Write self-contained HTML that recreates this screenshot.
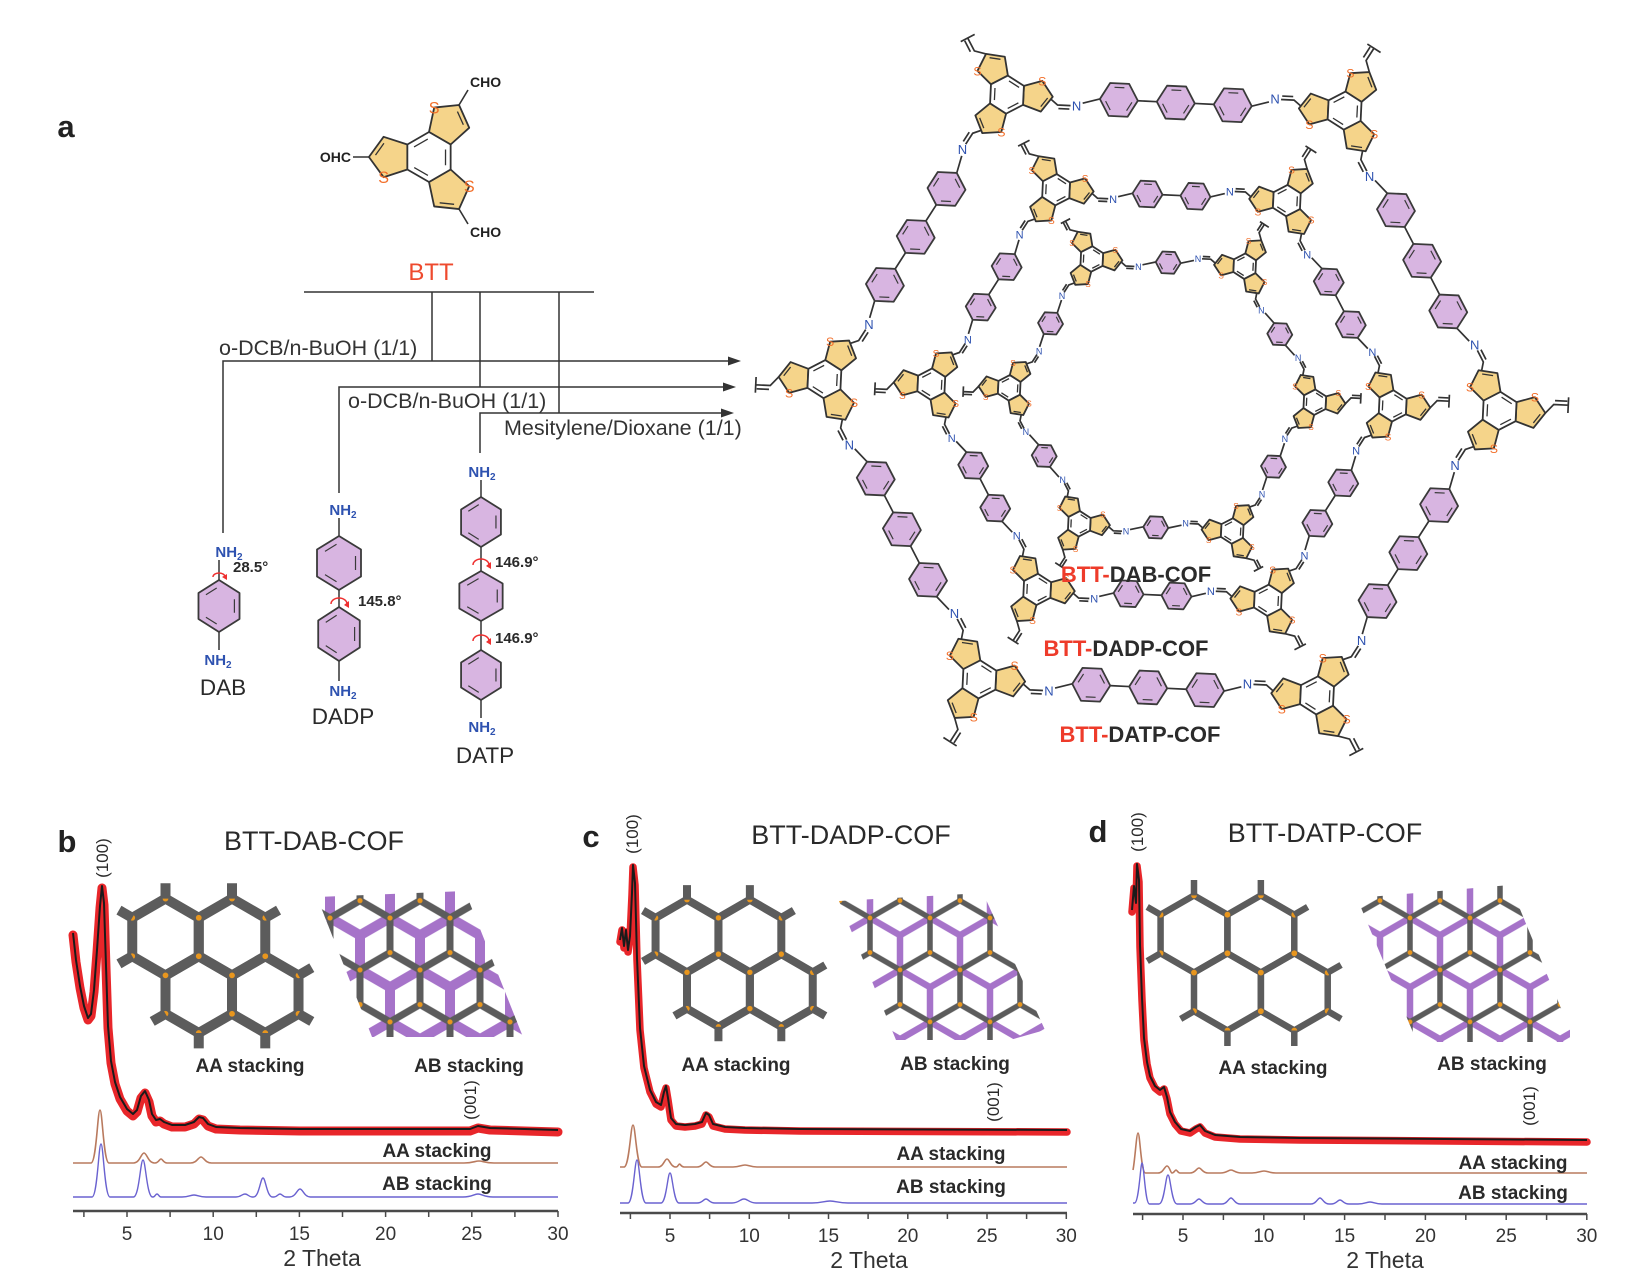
<!DOCTYPE html>
<html><head><meta charset="utf-8"><style>
body{margin:0;background:#fff}
svg{display:block}
svg text{font-family:"Liberation Sans",Arial,sans-serif}
.th{fill:#f5d48a;stroke:#333;stroke-width:1.8;stroke-linejoin:round;vector-effect:non-scaling-stroke}
.bz{fill:#fff;stroke:#333;stroke-width:1.8;stroke-linejoin:round;vector-effect:non-scaling-stroke}
.ln{fill:none;stroke:#333;stroke-width:1.3;vector-effect:non-scaling-stroke}
.b{fill:none;stroke:#333;stroke-width:1.7;vector-effect:non-scaling-stroke}
.ph{fill:#d8b5e1;stroke:#3a3a3a;stroke-width:1.8;stroke-linejoin:round;vector-effect:non-scaling-stroke}
.pi{fill:none;stroke:#3a3a3a;stroke-width:1.2;vector-effect:non-scaling-stroke}
.s{font-size:11px;fill:#f26f2a;text-anchor:middle}
.n1{font-size:13px;fill:#2e52b0;text-anchor:middle}
.n2{font-size:11px;fill:#2e52b0;text-anchor:middle}
.n3{font-size:9px;fill:#2e52b0;text-anchor:middle}
.nh{font-size:15px;font-weight:bold;fill:#2e52b0;text-anchor:middle}
.ang{font-size:15px;font-weight:bold;fill:#2a2a2a}
.mol{font-size:22.5px;fill:#2a2a2a;text-anchor:middle}
.cond{font-size:21.5px;fill:#333}
.cof{font-size:22px;font-weight:bold;fill:#2b2b2b;text-anchor:middle}
.red{fill:#ee3b2a}
.pl{font-size:31px;font-weight:bold;fill:#222;text-anchor:middle}
.ttl{font-size:27px;fill:#2a2a2a;text-anchor:middle}
.tk{font-size:19px;fill:#333;text-anchor:middle}
.xl{font-size:23px;fill:#333;text-anchor:middle}
.st{font-size:19px;font-weight:bold;fill:#2a2a2a;text-anchor:middle}
.hk{font-size:17px;fill:#2a2a2a;text-anchor:middle}
.hc{fill:none;stroke:#5c5c5c;stroke-linejoin:round}
.hc polygon,.hc path{vector-effect:non-scaling-stroke}
.ax{stroke:#4a4a4a;stroke-width:2.5;fill:none}
.tks{stroke:#4a4a4a;stroke-width:1.5;fill:none}
.ex{fill:none;stroke:#e8262a;stroke-linejoin:round;stroke-linecap:round}
.exk{fill:none;stroke:#1a1a1a;stroke-width:2;stroke-linejoin:round}
.aa{fill:none;stroke:#b97a5e;stroke-width:1.6}
.abc{fill:none;stroke:#6a62d0;stroke-width:1.4}
.rot{fill:none;stroke:#ee3030;stroke-width:1.5}
</style></head><body>
<svg width="1647" height="1287" viewBox="0 0 1647 1287" xmlns="http://www.w3.org/2000/svg">
<defs>
<marker id="od" markerUnits="userSpaceOnUse" markerWidth="1" markerHeight="1" refX="0" refY="0" overflow="visible"><circle r="0.075" fill="#e8961e"/></marker>
<pattern id="hg" patternUnits="userSpaceOnUse" width="60" height="103.92"><path d="M30,0V17.32L0,34.64V69.28L30,86.6V103.92M30,17.32L60,34.64V69.28L30,86.6" fill="none" stroke="#5c5c5c" stroke-width="5.5"/><g fill="#e8961e"><circle cx="30" cy="17.32" r="2.4"/><circle cx="0" cy="34.64" r="2.4"/><circle cx="60" cy="34.64" r="2.4"/><circle cx="0" cy="69.28" r="2.4"/><circle cx="60" cy="69.28" r="2.4"/><circle cx="30" cy="86.6" r="2.4"/></g></pattern>
<pattern id="hp" patternUnits="userSpaceOnUse" y="69.28" width="60" height="103.92"><path d="M30,0V17.32L0,34.64V69.28L30,86.6V103.92M30,17.32L60,34.64V69.28L30,86.6" fill="none" stroke="#a673c9" stroke-width="6.5"/></pattern>
<pattern id="hg2" patternUnits="userSpaceOnUse" width="60" height="103.92"><path d="M30,0V17.32L0,34.64V69.28L30,86.6V103.92M30,17.32L60,34.64V69.28L30,86.6" fill="none" stroke="#5c5c5c" stroke-width="7"/><g fill="#e8961e"><circle cx="30" cy="17.32" r="2.6"/><circle cx="0" cy="34.64" r="2.6"/><circle cx="60" cy="34.64" r="2.6"/><circle cx="0" cy="69.28" r="2.6"/><circle cx="60" cy="69.28" r="2.6"/><circle cx="30" cy="86.6" r="2.6"/></g></pattern>
<pattern id="hp2" patternUnits="userSpaceOnUse" y="69.28" width="60" height="103.92"><path d="M30,0V17.32L0,34.64V69.28L30,86.6V103.92M30,17.32L60,34.64V69.28L30,86.6" fill="none" stroke="#a673c9" stroke-width="10"/></pattern>
<clipPath id="abB"><polygon points="317,897 465,891 523,1037 372,1037"/></clipPath>
<clipPath id="abC"><polygon points="839,901 983,893 1045,1030 1010,1040 896,1040"/></clipPath>
<clipPath id="abD"><polygon points="1357,898 1510,885 1570,1030 1570,1042 1417,1042"/></clipPath>
</defs>

<!-- ===== Panel a, left ===== -->
<text class="pl" x="66" y="137">a</text>

<g transform="translate(429,157) scale(1.47)"><g transform="rotate(60)"><polygon class="th" points="14.72,-8.5 30.89,-13.75 40.88,0 30.89,13.75 14.72,8.5"/><polygon class="th" points="0,17 -3.54,33.63 -20.44,35.4 -27.35,19.88 -14.72,8.5"/><polygon class="th" points="-14.72,-8.5 -27.35,-19.88 -20.44,-35.4 -3.54,-33.63 0,-17"/><polygon class="bz" points="14.72,8.5 0,17 -14.72,8.5 -14.72,-8.5 0,-17 14.72,-8.5"/><path class="ln" d="M10.5,6.9L1.2,12.3M-11,5.4V-5.4M1.2,-12.3L10.5,-6.9M36.4,1.3L30.6,9.3M-19.3,30.9L-23.4,21.9M-17.1,-32.2L-7.3,-31.2"/></g><text class="s" x="27.4" y="23.9">S</text><text class="s" x="-30.9" y="17.8">S</text><text class="s" x="3.5" y="-29.6">S</text></g>
<path d="M369,157H353M459,105L468,90M459,209L468,224" stroke="#333" stroke-width="1.6" fill="none"/>
<text x="351" y="162" font-size="14" font-weight="bold" fill="#222" text-anchor="end">OHC</text>
<text x="470" y="87" font-size="14" font-weight="bold" fill="#222">CHO</text>
<text x="470" y="237" font-size="14" font-weight="bold" fill="#222">CHO</text>
<text x="431" y="280" font-size="24" fill="#ee4a2e" text-anchor="middle">BTT</text>

<g stroke="#333" stroke-width="1.5" fill="none">
<path d="M304,292H594"/>
<path d="M432,292V361M480,292V387M559,292V413"/>
<path d="M223,533V361H730M339,493V387H725M480,453V413H723"/>
</g>
<g fill="#333"><polygon points="741,361 728,356.5 728,365.5"/><polygon points="736,387 723,382.5 723,391.5"/><polygon points="734,413 721,408.5 721,417.5"/></g>
<text class="cond" x="219" y="355">o-DCB/n-BuOH (1/1)</text>
<text class="cond" x="348" y="408">o-DCB/n-BuOH (1/1)</text>
<text class="cond" x="504" y="435">Mesitylene/Dioxane (1/1)</text>

<!-- DAB -->
<text class="nh" x="229" y="557">NH<tspan font-size="10" dy="3">2</tspan></text>
<path d="M219,560V580M219,632V650" stroke="#333" stroke-width="1.5"/>
<g transform="translate(219,606) rotate(90) scale(26,23.7)"><polygon class="ph" points="1,0 .5,.866 -.5,.866 -1,0 -.5,-.866 .5,-.866"/><path class="pi" d="M.694,.097L.431,.552M-.431,.552L-.694,.097M-.26,-.65L.26,-.65"/></g>
<path class="rot" d="M213,577A6,4 0 1,1 225,577"/><polygon points="227,574 222,577 227,580" fill="#ee3030"/>
<text class="ang" x="233" y="572">28.5°</text>
<text class="nh" x="218" y="665">NH<tspan font-size="10" dy="3">2</tspan></text>
<text class="mol" x="223" y="695">DAB</text>

<!-- DADP -->
<text class="nh" x="343" y="515">NH<tspan font-size="10" dy="3">2</tspan></text>
<path d="M339,518V536M339,590V607M339,661V681" stroke="#333" stroke-width="1.5"/>
<g transform="translate(339,563) rotate(90) scale(27,25.4)"><polygon class="ph" points="1,0 .5,.866 -.5,.866 -1,0 -.5,-.866 .5,-.866"/><path class="pi" d="M.694,.097L.431,.552M-.431,.552L-.694,.097M-.26,-.65L.26,-.65"/></g>
<g transform="translate(339,634) rotate(90) scale(27,24)"><polygon class="ph" points="1,0 .5,.866 -.5,.866 -1,0 -.5,-.866 .5,-.866"/><path class="pi" d="M.694,.097L.431,.552M-.431,.552L-.694,.097M-.26,-.65L.26,-.65"/></g>
<path class="rot" d="M331,604A8,6 0 1,1 347,604"/><polygon points="349,601 344,605 349,608" fill="#ee3030"/>
<text class="ang" x="358" y="606">145.8°</text>
<text class="nh" x="343" y="696">NH<tspan font-size="10" dy="3">2</tspan></text>
<text class="mol" x="343" y="724">DADP</text>

<!-- DATP -->
<text class="nh" x="482" y="477">NH<tspan font-size="10" dy="3">2</tspan></text>
<path d="M481,480V497M481,547V571M481,621V650M481,700V718" stroke="#333" stroke-width="1.5"/>
<g transform="translate(481,522) rotate(90) scale(25,23)"><polygon class="ph" points="1,0 .5,.866 -.5,.866 -1,0 -.5,-.866 .5,-.866"/><path class="pi" d="M.694,.097L.431,.552M-.431,.552L-.694,.097M-.26,-.65L.26,-.65"/></g>
<g transform="translate(481,596) rotate(90) scale(25,25)"><polygon class="ph" points="1,0 .5,.866 -.5,.866 -1,0 -.5,-.866 .5,-.866"/><path class="pi" d="M.694,.097L.431,.552M-.431,.552L-.694,.097M-.26,-.65L.26,-.65"/></g>
<g transform="translate(481,675) rotate(90) scale(25,23)"><polygon class="ph" points="1,0 .5,.866 -.5,.866 -1,0 -.5,-.866 .5,-.866"/><path class="pi" d="M.694,.097L.431,.552M-.431,.552L-.694,.097M-.26,-.65L.26,-.65"/></g>
<path class="rot" d="M473,565A8,6 0 1,1 489,565"/><polygon points="491,562 486,566 491,569" fill="#ee3030"/>
<path class="rot" d="M473,641A8,6 0 1,1 489,641"/><polygon points="491,638 486,642 491,645" fill="#ee3030"/>
<text class="ang" x="495" y="567">146.9°</text>
<text class="ang" x="495" y="643">146.9°</text>
<text class="nh" x="482" y="732">NH<tspan font-size="10" dy="3">2</tspan></text>
<text class="mol" x="485" y="763">DATP</text>

<!-- ===== network linkers ===== -->
<g transform="translate(1499.6,410.9) rotate(122.7)"><path class="b" d="M40.9,0L51,8L64,8M52,11.5L63,11.5M76,5L93,0M131,0L150,0M188,0L207,0M245,0L262,-5M274,-8L287,-8L297.1,0M275,-11.5L286,-11.5"/><g transform="translate(112,0) scale(19)"><polygon class="ph" points="1,0 .5,.866 -.5,.866 -1,0 -.5,-.866 .5,-.866"/><path class="pi" d="M.694,.097L.431,.552M-.431,.552L-.694,.097M-.26,-.65L.26,-.65"/></g><g transform="translate(169,0) scale(19)"><polygon class="ph" points="1,0 .5,.866 -.5,.866 -1,0 -.5,-.866 .5,-.866"/><path class="pi" d="M.694,.097L.431,.552M-.431,.552L-.694,.097M-.26,-.65L.26,-.65"/></g><g transform="translate(226,0) scale(19)"><polygon class="ph" points="1,0 .5,.866 -.5,.866 -1,0 -.5,-.866 .5,-.866"/><path class="pi" d="M.694,.097L.431,.552M-.431,.552L-.694,.097M-.26,-.65L.26,-.65"/></g><text class="n1" transform="translate(70,8) rotate(-122.7)" y="4.5">N</text><text class="n1" transform="translate(268,-8) rotate(-122.7)" y="4.5">N</text></g>
<g transform="translate(1317,695.4) rotate(182.7)"><path class="b" d="M40.9,0L51,8L64,8M52,11.5L63,11.5M76,5L93,0M131,0L150,0M188,0L207,0M245,0L262,-5M274,-8L287,-8L297.1,0M275,-11.5L286,-11.5"/><g transform="translate(112,0) scale(19)"><polygon class="ph" points="1,0 .5,.866 -.5,.866 -1,0 -.5,-.866 .5,-.866"/><path class="pi" d="M.694,.097L.431,.552M-.431,.552L-.694,.097M-.26,-.65L.26,-.65"/></g><g transform="translate(169,0) scale(19)"><polygon class="ph" points="1,0 .5,.866 -.5,.866 -1,0 -.5,-.866 .5,-.866"/><path class="pi" d="M.694,.097L.431,.552M-.431,.552L-.694,.097M-.26,-.65L.26,-.65"/></g><g transform="translate(226,0) scale(19)"><polygon class="ph" points="1,0 .5,.866 -.5,.866 -1,0 -.5,-.866 .5,-.866"/><path class="pi" d="M.694,.097L.431,.552M-.431,.552L-.694,.097M-.26,-.65L.26,-.65"/></g><text class="n1" transform="translate(70,8) rotate(-182.7)" y="4.5">N</text><text class="n1" transform="translate(268,-8) rotate(-182.7)" y="4.5">N</text></g>
<g transform="translate(979.4,679.4) rotate(242.7)"><path class="b" d="M40.9,0L51,8L64,8M52,11.5L63,11.5M76,5L93,0M131,0L150,0M188,0L207,0M245,0L262,-5M274,-8L287,-8L297.1,0M275,-11.5L286,-11.5"/><g transform="translate(112,0) scale(19)"><polygon class="ph" points="1,0 .5,.866 -.5,.866 -1,0 -.5,-.866 .5,-.866"/><path class="pi" d="M.694,.097L.431,.552M-.431,.552L-.694,.097M-.26,-.65L.26,-.65"/></g><g transform="translate(169,0) scale(19)"><polygon class="ph" points="1,0 .5,.866 -.5,.866 -1,0 -.5,-.866 .5,-.866"/><path class="pi" d="M.694,.097L.431,.552M-.431,.552L-.694,.097M-.26,-.65L.26,-.65"/></g><g transform="translate(226,0) scale(19)"><polygon class="ph" points="1,0 .5,.866 -.5,.866 -1,0 -.5,-.866 .5,-.866"/><path class="pi" d="M.694,.097L.431,.552M-.431,.552L-.694,.097M-.26,-.65L.26,-.65"/></g><text class="n1" transform="translate(70,8) rotate(-242.7)" y="4.5">N</text><text class="n1" transform="translate(268,-8) rotate(-242.7)" y="4.5">N</text></g>
<g transform="translate(824.4,379.1) rotate(302.7)"><path class="b" d="M40.9,0L51,8L64,8M52,11.5L63,11.5M76,5L93,0M131,0L150,0M188,0L207,0M245,0L262,-5M274,-8L287,-8L297.1,0M275,-11.5L286,-11.5"/><g transform="translate(112,0) scale(19)"><polygon class="ph" points="1,0 .5,.866 -.5,.866 -1,0 -.5,-.866 .5,-.866"/><path class="pi" d="M.694,.097L.431,.552M-.431,.552L-.694,.097M-.26,-.65L.26,-.65"/></g><g transform="translate(169,0) scale(19)"><polygon class="ph" points="1,0 .5,.866 -.5,.866 -1,0 -.5,-.866 .5,-.866"/><path class="pi" d="M.694,.097L.431,.552M-.431,.552L-.694,.097M-.26,-.65L.26,-.65"/></g><g transform="translate(226,0) scale(19)"><polygon class="ph" points="1,0 .5,.866 -.5,.866 -1,0 -.5,-.866 .5,-.866"/><path class="pi" d="M.694,.097L.431,.552M-.431,.552L-.694,.097M-.26,-.65L.26,-.65"/></g><text class="n1" transform="translate(70,8) rotate(-302.7)" y="4.5">N</text><text class="n1" transform="translate(268,-8) rotate(-302.7)" y="4.5">N</text></g>
<g transform="translate(1007,94.6) rotate(2.7)"><path class="b" d="M40.9,0L51,8L64,8M52,11.5L63,11.5M76,5L93,0M131,0L150,0M188,0L207,0M245,0L262,-5M274,-8L287,-8L297.1,0M275,-11.5L286,-11.5"/><g transform="translate(112,0) scale(19)"><polygon class="ph" points="1,0 .5,.866 -.5,.866 -1,0 -.5,-.866 .5,-.866"/><path class="pi" d="M.694,.097L.431,.552M-.431,.552L-.694,.097M-.26,-.65L.26,-.65"/></g><g transform="translate(169,0) scale(19)"><polygon class="ph" points="1,0 .5,.866 -.5,.866 -1,0 -.5,-.866 .5,-.866"/><path class="pi" d="M.694,.097L.431,.552M-.431,.552L-.694,.097M-.26,-.65L.26,-.65"/></g><g transform="translate(226,0) scale(19)"><polygon class="ph" points="1,0 .5,.866 -.5,.866 -1,0 -.5,-.866 .5,-.866"/><path class="pi" d="M.694,.097L.431,.552M-.431,.552L-.694,.097M-.26,-.65L.26,-.65"/></g><text class="n1" transform="translate(70,8) rotate(-2.7)" y="4.5">N</text><text class="n1" transform="translate(268,-8) rotate(-2.7)" y="4.5">N</text></g>
<g transform="translate(1344.6,110.6) rotate(62.7)"><path class="b" d="M40.9,0L51,8L64,8M52,11.5L63,11.5M76,5L93,0M131,0L150,0M188,0L207,0M245,0L262,-5M274,-8L287,-8L297.1,0M275,-11.5L286,-11.5"/><g transform="translate(112,0) scale(19)"><polygon class="ph" points="1,0 .5,.866 -.5,.866 -1,0 -.5,-.866 .5,-.866"/><path class="pi" d="M.694,.097L.431,.552M-.431,.552L-.694,.097M-.26,-.65L.26,-.65"/></g><g transform="translate(169,0) scale(19)"><polygon class="ph" points="1,0 .5,.866 -.5,.866 -1,0 -.5,-.866 .5,-.866"/><path class="pi" d="M.694,.097L.431,.552M-.431,.552L-.694,.097M-.26,-.65L.26,-.65"/></g><g transform="translate(226,0) scale(19)"><polygon class="ph" points="1,0 .5,.866 -.5,.866 -1,0 -.5,-.866 .5,-.866"/><path class="pi" d="M.694,.097L.431,.552M-.431,.552L-.694,.097M-.26,-.65L.26,-.65"/></g><text class="n1" transform="translate(70,8) rotate(-62.7)" y="4.5">N</text><text class="n1" transform="translate(268,-8) rotate(-62.7)" y="4.5">N</text></g>

<g transform="translate(1392.7,405.9) rotate(122.7)"><path class="b" d="M33.5,0L41.8,6.6L52.5,6.6M42.6,9.4L51.7,9.4M62.3,4.1L76.5,0M106.5,0L124.5,0M154.5,0L168.7,-4.1M178.5,-6.6L189.2,-6.6L197.5,0M179.3,-9.4L188.4,-9.4"/><g transform="translate(91.5,0) scale(15)"><polygon class="ph" points="1,0 .5,.866 -.5,.866 -1,0 -.5,-.866 .5,-.866"/><path class="pi" d="M.694,.097L.431,.552M-.431,.552L-.694,.097M-.26,-.65L.26,-.65"/></g><g transform="translate(139.5,0) scale(15)"><polygon class="ph" points="1,0 .5,.866 -.5,.866 -1,0 -.5,-.866 .5,-.866"/><path class="pi" d="M.694,.097L.431,.552M-.431,.552L-.694,.097M-.26,-.65L.26,-.65"/></g><text class="n2" transform="translate(57.4,6.6) rotate(-122.7)" y="4">N</text><text class="n2" transform="translate(173.6,-6.6) rotate(-122.7)" y="4">N</text></g>
<g transform="translate(1267.9,600.3) rotate(182.7)"><path class="b" d="M33.5,0L41.8,6.6L52.5,6.6M42.6,9.4L51.7,9.4M62.3,4.1L76.5,0M106.5,0L124.5,0M154.5,0L168.7,-4.1M178.5,-6.6L189.2,-6.6L197.5,0M179.3,-9.4L188.4,-9.4"/><g transform="translate(91.5,0) scale(15)"><polygon class="ph" points="1,0 .5,.866 -.5,.866 -1,0 -.5,-.866 .5,-.866"/><path class="pi" d="M.694,.097L.431,.552M-.431,.552L-.694,.097M-.26,-.65L.26,-.65"/></g><g transform="translate(139.5,0) scale(15)"><polygon class="ph" points="1,0 .5,.866 -.5,.866 -1,0 -.5,-.866 .5,-.866"/><path class="pi" d="M.694,.097L.431,.552M-.431,.552L-.694,.097M-.26,-.65L.26,-.65"/></g><text class="n2" transform="translate(57.4,6.6) rotate(-182.7)" y="4">N</text><text class="n2" transform="translate(173.6,-6.6) rotate(-182.7)" y="4">N</text></g>
<g transform="translate(1037.2,589.4) rotate(242.7)"><path class="b" d="M33.5,0L41.8,6.6L52.5,6.6M42.6,9.4L51.7,9.4M62.3,4.1L76.5,0M106.5,0L124.5,0M154.5,0L168.7,-4.1M178.5,-6.6L189.2,-6.6L197.5,0M179.3,-9.4L188.4,-9.4"/><g transform="translate(91.5,0) scale(15)"><polygon class="ph" points="1,0 .5,.866 -.5,.866 -1,0 -.5,-.866 .5,-.866"/><path class="pi" d="M.694,.097L.431,.552M-.431,.552L-.694,.097M-.26,-.65L.26,-.65"/></g><g transform="translate(139.5,0) scale(15)"><polygon class="ph" points="1,0 .5,.866 -.5,.866 -1,0 -.5,-.866 .5,-.866"/><path class="pi" d="M.694,.097L.431,.552M-.431,.552L-.694,.097M-.26,-.65L.26,-.65"/></g><text class="n2" transform="translate(57.4,6.6) rotate(-242.7)" y="4">N</text><text class="n2" transform="translate(173.6,-6.6) rotate(-242.7)" y="4">N</text></g>
<g transform="translate(931.3,384.1) rotate(302.7)"><path class="b" d="M33.5,0L41.8,6.6L52.5,6.6M42.6,9.4L51.7,9.4M62.3,4.1L76.5,0M106.5,0L124.5,0M154.5,0L168.7,-4.1M178.5,-6.6L189.2,-6.6L197.5,0M179.3,-9.4L188.4,-9.4"/><g transform="translate(91.5,0) scale(15)"><polygon class="ph" points="1,0 .5,.866 -.5,.866 -1,0 -.5,-.866 .5,-.866"/><path class="pi" d="M.694,.097L.431,.552M-.431,.552L-.694,.097M-.26,-.65L.26,-.65"/></g><g transform="translate(139.5,0) scale(15)"><polygon class="ph" points="1,0 .5,.866 -.5,.866 -1,0 -.5,-.866 .5,-.866"/><path class="pi" d="M.694,.097L.431,.552M-.431,.552L-.694,.097M-.26,-.65L.26,-.65"/></g><text class="n2" transform="translate(57.4,6.6) rotate(-302.7)" y="4">N</text><text class="n2" transform="translate(173.6,-6.6) rotate(-302.7)" y="4">N</text></g>
<g transform="translate(1056.1,189.7) rotate(2.7)"><path class="b" d="M33.5,0L41.8,6.6L52.5,6.6M42.6,9.4L51.7,9.4M62.3,4.1L76.5,0M106.5,0L124.5,0M154.5,0L168.7,-4.1M178.5,-6.6L189.2,-6.6L197.5,0M179.3,-9.4L188.4,-9.4"/><g transform="translate(91.5,0) scale(15)"><polygon class="ph" points="1,0 .5,.866 -.5,.866 -1,0 -.5,-.866 .5,-.866"/><path class="pi" d="M.694,.097L.431,.552M-.431,.552L-.694,.097M-.26,-.65L.26,-.65"/></g><g transform="translate(139.5,0) scale(15)"><polygon class="ph" points="1,0 .5,.866 -.5,.866 -1,0 -.5,-.866 .5,-.866"/><path class="pi" d="M.694,.097L.431,.552M-.431,.552L-.694,.097M-.26,-.65L.26,-.65"/></g><text class="n2" transform="translate(57.4,6.6) rotate(-2.7)" y="4">N</text><text class="n2" transform="translate(173.6,-6.6) rotate(-2.7)" y="4">N</text></g>
<g transform="translate(1286.8,200.6) rotate(62.7)"><path class="b" d="M33.5,0L41.8,6.6L52.5,6.6M42.6,9.4L51.7,9.4M62.3,4.1L76.5,0M106.5,0L124.5,0M154.5,0L168.7,-4.1M178.5,-6.6L189.2,-6.6L197.5,0M179.3,-9.4L188.4,-9.4"/><g transform="translate(91.5,0) scale(15)"><polygon class="ph" points="1,0 .5,.866 -.5,.866 -1,0 -.5,-.866 .5,-.866"/><path class="pi" d="M.694,.097L.431,.552M-.431,.552L-.694,.097M-.26,-.65L.26,-.65"/></g><g transform="translate(139.5,0) scale(15)"><polygon class="ph" points="1,0 .5,.866 -.5,.866 -1,0 -.5,-.866 .5,-.866"/><path class="pi" d="M.694,.097L.431,.552M-.431,.552L-.694,.097M-.26,-.65L.26,-.65"/></g><text class="n2" transform="translate(57.4,6.6) rotate(-62.7)" y="4">N</text><text class="n2" transform="translate(173.6,-6.6) rotate(-62.7)" y="4">N</text></g>

<g transform="translate(1314.8,402.2) rotate(122.7)"><path class="b" d="M27.4,0L34.2,5.4L42.9,5.4M34.8,7.7L42.2,7.7M50.9,3.4L64,0M89,0L102.1,-3.4M110.1,-5.4L118.8,-5.4L125.6,0M110.8,-7.7L118.2,-7.7"/><g transform="translate(76.5,0) scale(12.5)"><polygon class="ph" points="1,0 .5,.866 -.5,.866 -1,0 -.5,-.866 .5,-.866"/><path class="pi" d="M.694,.097L.431,.552M-.431,.552L-.694,.097M-.26,-.65L.26,-.65"/></g><text class="n3" transform="translate(46.9,5.4) rotate(-122.7)" y="3.2">N</text><text class="n3" transform="translate(106.1,-5.4) rotate(-122.7)" y="3.2">N</text></g>
<g transform="translate(1232.2,531) rotate(182.7)"><path class="b" d="M27.4,0L34.2,5.4L42.9,5.4M34.8,7.7L42.2,7.7M50.9,3.4L64,0M89,0L102.1,-3.4M110.1,-5.4L118.8,-5.4L125.6,0M110.8,-7.7L118.2,-7.7"/><g transform="translate(76.5,0) scale(12.5)"><polygon class="ph" points="1,0 .5,.866 -.5,.866 -1,0 -.5,-.866 .5,-.866"/><path class="pi" d="M.694,.097L.431,.552M-.431,.552L-.694,.097M-.26,-.65L.26,-.65"/></g><text class="n3" transform="translate(46.9,5.4) rotate(-182.7)" y="3.2">N</text><text class="n3" transform="translate(106.1,-5.4) rotate(-182.7)" y="3.2">N</text></g>
<g transform="translate(1079.3,523.8) rotate(242.7)"><path class="b" d="M27.4,0L34.2,5.4L42.9,5.4M34.8,7.7L42.2,7.7M50.9,3.4L64,0M89,0L102.1,-3.4M110.1,-5.4L118.8,-5.4L125.6,0M110.8,-7.7L118.2,-7.7"/><g transform="translate(76.5,0) scale(12.5)"><polygon class="ph" points="1,0 .5,.866 -.5,.866 -1,0 -.5,-.866 .5,-.866"/><path class="pi" d="M.694,.097L.431,.552M-.431,.552L-.694,.097M-.26,-.65L.26,-.65"/></g><text class="n3" transform="translate(46.9,5.4) rotate(-242.7)" y="3.2">N</text><text class="n3" transform="translate(106.1,-5.4) rotate(-242.7)" y="3.2">N</text></g>
<g transform="translate(1009.2,387.8) rotate(302.7)"><path class="b" d="M27.4,0L34.2,5.4L42.9,5.4M34.8,7.7L42.2,7.7M50.9,3.4L64,0M89,0L102.1,-3.4M110.1,-5.4L118.8,-5.4L125.6,0M110.8,-7.7L118.2,-7.7"/><g transform="translate(76.5,0) scale(12.5)"><polygon class="ph" points="1,0 .5,.866 -.5,.866 -1,0 -.5,-.866 .5,-.866"/><path class="pi" d="M.694,.097L.431,.552M-.431,.552L-.694,.097M-.26,-.65L.26,-.65"/></g><text class="n3" transform="translate(46.9,5.4) rotate(-302.7)" y="3.2">N</text><text class="n3" transform="translate(106.1,-5.4) rotate(-302.7)" y="3.2">N</text></g>
<g transform="translate(1091.8,259) rotate(2.7)"><path class="b" d="M27.4,0L34.2,5.4L42.9,5.4M34.8,7.7L42.2,7.7M50.9,3.4L64,0M89,0L102.1,-3.4M110.1,-5.4L118.8,-5.4L125.6,0M110.8,-7.7L118.2,-7.7"/><g transform="translate(76.5,0) scale(12.5)"><polygon class="ph" points="1,0 .5,.866 -.5,.866 -1,0 -.5,-.866 .5,-.866"/><path class="pi" d="M.694,.097L.431,.552M-.431,.552L-.694,.097M-.26,-.65L.26,-.65"/></g><text class="n3" transform="translate(46.9,5.4) rotate(-2.7)" y="3.2">N</text><text class="n3" transform="translate(106.1,-5.4) rotate(-2.7)" y="3.2">N</text></g>
<g transform="translate(1244.7,266.2) rotate(62.7)"><path class="b" d="M27.4,0L34.2,5.4L42.9,5.4M34.8,7.7L42.2,7.7M50.9,3.4L64,0M89,0L102.1,-3.4M110.1,-5.4L118.8,-5.4L125.6,0M110.8,-7.7L118.2,-7.7"/><g transform="translate(76.5,0) scale(12.5)"><polygon class="ph" points="1,0 .5,.866 -.5,.866 -1,0 -.5,-.866 .5,-.866"/><path class="pi" d="M.694,.097L.431,.552M-.431,.552L-.694,.097M-.26,-.65L.26,-.65"/></g><text class="n3" transform="translate(46.9,5.4) rotate(-62.7)" y="3.2">N</text><text class="n3" transform="translate(106.1,-5.4) rotate(-62.7)" y="3.2">N</text></g>

<!-- ===== network nodes ===== -->
<g transform="translate(1499.6,410.9) scale(1.12)"><g transform="rotate(2.7)"><polygon class="th" points="14.72,-8.5 30.89,-13.75 40.88,0 30.89,13.75 14.72,8.5"/><polygon class="th" points="0,17 -3.54,33.63 -20.44,35.4 -27.35,19.88 -14.72,8.5"/><polygon class="th" points="-14.72,-8.5 -27.35,-19.88 -20.44,-35.4 -3.54,-33.63 0,-17"/><polygon class="bz" points="14.72,8.5 0,17 -14.72,8.5 -14.72,-8.5 0,-17 14.72,-8.5"/><path class="ln" d="M10.5,6.9L1.2,12.3M-11,5.4V-5.4M1.2,-12.3L10.5,-6.9M36.4,1.3L30.6,9.3M-19.3,30.9L-23.4,21.9M-17.1,-32.2L-7.3,-31.2"/><path class="b" d="M40.9,0L48,-8L61,-8M49,-11.5L60,-11.5M61,-15L61,-1"/></g><text class="s" x="31.5" y="-8.3">S</text><text class="s" x="-5.1" y="37.4">S</text><text class="s" x="-26.4" y="-17.2">S</text></g>
<g transform="translate(1317,695.4) scale(1.12)"><g transform="rotate(62.7)"><polygon class="th" points="14.72,-8.5 30.89,-13.75 40.88,0 30.89,13.75 14.72,8.5"/><polygon class="th" points="0,17 -3.54,33.63 -20.44,35.4 -27.35,19.88 -14.72,8.5"/><polygon class="th" points="-14.72,-8.5 -27.35,-19.88 -20.44,-35.4 -3.54,-33.63 0,-17"/><polygon class="bz" points="14.72,8.5 0,17 -14.72,8.5 -14.72,-8.5 0,-17 14.72,-8.5"/><path class="ln" d="M10.5,6.9L1.2,12.3M-11,5.4V-5.4M1.2,-12.3L10.5,-6.9M36.4,1.3L30.6,9.3M-19.3,30.9L-23.4,21.9M-17.1,-32.2L-7.3,-31.2"/><path class="b" d="M40.9,0L48,-8L61,-8M49,-11.5L60,-11.5M61,-15L61,-1"/></g><text class="s" x="26.4" y="25.1">S</text><text class="s" x="-31.5" y="16.3">S</text><text class="s" x="5.1" y="-29.4">S</text></g>
<g transform="translate(979.4,679.4) scale(1.12)"><g transform="rotate(2.7)"><polygon class="th" points="14.72,-8.5 30.89,-13.75 40.88,0 30.89,13.75 14.72,8.5"/><polygon class="th" points="0,17 -3.54,33.63 -20.44,35.4 -27.35,19.88 -14.72,8.5"/><polygon class="th" points="-14.72,-8.5 -27.35,-19.88 -20.44,-35.4 -3.54,-33.63 0,-17"/><polygon class="bz" points="14.72,8.5 0,17 -14.72,8.5 -14.72,-8.5 0,-17 14.72,-8.5"/><path class="ln" d="M10.5,6.9L1.2,12.3M-11,5.4V-5.4M1.2,-12.3L10.5,-6.9M36.4,1.3L30.6,9.3M-19.3,30.9L-23.4,21.9M-17.1,-32.2L-7.3,-31.2"/></g><g transform="rotate(122.7)"><path class="b" d="M40.9,0L48,-8L61,-8M49,-11.5L60,-11.5M61,-15L61,-1"/></g><text class="s" x="31.5" y="-8.3">S</text><text class="s" x="-5.1" y="37.4">S</text><text class="s" x="-26.4" y="-17.2">S</text></g>
<g transform="translate(824.4,379.1) scale(1.12)"><g transform="rotate(62.7)"><polygon class="th" points="14.72,-8.5 30.89,-13.75 40.88,0 30.89,13.75 14.72,8.5"/><polygon class="th" points="0,17 -3.54,33.63 -20.44,35.4 -27.35,19.88 -14.72,8.5"/><polygon class="th" points="-14.72,-8.5 -27.35,-19.88 -20.44,-35.4 -3.54,-33.63 0,-17"/><polygon class="bz" points="14.72,8.5 0,17 -14.72,8.5 -14.72,-8.5 0,-17 14.72,-8.5"/><path class="ln" d="M10.5,6.9L1.2,12.3M-11,5.4V-5.4M1.2,-12.3L10.5,-6.9M36.4,1.3L30.6,9.3M-19.3,30.9L-23.4,21.9M-17.1,-32.2L-7.3,-31.2"/></g><g transform="rotate(182.7)"><path class="b" d="M40.9,0L48,-8L61,-8M49,-11.5L60,-11.5M61,-15L61,-1"/></g><text class="s" x="26.4" y="25.1">S</text><text class="s" x="-31.5" y="16.3">S</text><text class="s" x="5.1" y="-29.4">S</text></g>
<g transform="translate(1007,94.6) scale(1.12)"><g transform="rotate(2.7)"><polygon class="th" points="14.72,-8.5 30.89,-13.75 40.88,0 30.89,13.75 14.72,8.5"/><polygon class="th" points="0,17 -3.54,33.63 -20.44,35.4 -27.35,19.88 -14.72,8.5"/><polygon class="th" points="-14.72,-8.5 -27.35,-19.88 -20.44,-35.4 -3.54,-33.63 0,-17"/><polygon class="bz" points="14.72,8.5 0,17 -14.72,8.5 -14.72,-8.5 0,-17 14.72,-8.5"/><path class="ln" d="M10.5,6.9L1.2,12.3M-11,5.4V-5.4M1.2,-12.3L10.5,-6.9M36.4,1.3L30.6,9.3M-19.3,30.9L-23.4,21.9M-17.1,-32.2L-7.3,-31.2"/></g><g transform="rotate(242.7)"><path class="b" d="M40.9,0L48,-8L61,-8M49,-11.5L60,-11.5M61,-15L61,-1"/></g><text class="s" x="31.5" y="-8.3">S</text><text class="s" x="-5.1" y="37.4">S</text><text class="s" x="-26.4" y="-17.2">S</text></g>
<g transform="translate(1344.6,110.6) scale(1.12)"><g transform="rotate(62.7)"><polygon class="th" points="14.72,-8.5 30.89,-13.75 40.88,0 30.89,13.75 14.72,8.5"/><polygon class="th" points="0,17 -3.54,33.63 -20.44,35.4 -27.35,19.88 -14.72,8.5"/><polygon class="th" points="-14.72,-8.5 -27.35,-19.88 -20.44,-35.4 -3.54,-33.63 0,-17"/><polygon class="bz" points="14.72,8.5 0,17 -14.72,8.5 -14.72,-8.5 0,-17 14.72,-8.5"/><path class="ln" d="M10.5,6.9L1.2,12.3M-11,5.4V-5.4M1.2,-12.3L10.5,-6.9M36.4,1.3L30.6,9.3M-19.3,30.9L-23.4,21.9M-17.1,-32.2L-7.3,-31.2"/></g><g transform="rotate(302.7)"><path class="b" d="M40.9,0L48,-8L61,-8M49,-11.5L60,-11.5M61,-15L61,-1"/></g><text class="s" x="26.4" y="25.1">S</text><text class="s" x="-31.5" y="16.3">S</text><text class="s" x="5.1" y="-29.4">S</text></g>

<g transform="translate(1392.7,405.9) scale(0.92)"><g transform="rotate(2.7)"><polygon class="th" points="14.72,-8.5 30.89,-13.75 40.88,0 30.89,13.75 14.72,8.5"/><polygon class="th" points="0,17 -3.54,33.63 -20.44,35.4 -27.35,19.88 -14.72,8.5"/><polygon class="th" points="-14.72,-8.5 -27.35,-19.88 -20.44,-35.4 -3.54,-33.63 0,-17"/><polygon class="bz" points="14.72,8.5 0,17 -14.72,8.5 -14.72,-8.5 0,-17 14.72,-8.5"/><path class="ln" d="M10.5,6.9L1.2,12.3M-11,5.4V-5.4M1.2,-12.3L10.5,-6.9M36.4,1.3L30.6,9.3M-19.3,30.9L-23.4,21.9M-17.1,-32.2L-7.3,-31.2"/><path class="b" d="M40.9,0L48,-8L61,-8M49,-11.5L60,-11.5M61,-15L61,-1"/></g><text class="s" x="31.5" y="-8.3">S</text><text class="s" x="-5.1" y="37.4">S</text><text class="s" x="-26.4" y="-17.2">S</text></g>
<g transform="translate(1267.9,600.3) scale(0.92)"><g transform="rotate(62.7)"><polygon class="th" points="14.72,-8.5 30.89,-13.75 40.88,0 30.89,13.75 14.72,8.5"/><polygon class="th" points="0,17 -3.54,33.63 -20.44,35.4 -27.35,19.88 -14.72,8.5"/><polygon class="th" points="-14.72,-8.5 -27.35,-19.88 -20.44,-35.4 -3.54,-33.63 0,-17"/><polygon class="bz" points="14.72,8.5 0,17 -14.72,8.5 -14.72,-8.5 0,-17 14.72,-8.5"/><path class="ln" d="M10.5,6.9L1.2,12.3M-11,5.4V-5.4M1.2,-12.3L10.5,-6.9M36.4,1.3L30.6,9.3M-19.3,30.9L-23.4,21.9M-17.1,-32.2L-7.3,-31.2"/><path class="b" d="M40.9,0L48,-8L61,-8M49,-11.5L60,-11.5M61,-15L61,-1"/></g><text class="s" x="26.4" y="25.1">S</text><text class="s" x="-31.5" y="16.3">S</text><text class="s" x="5.1" y="-29.4">S</text></g>
<g transform="translate(1037.2,589.4) scale(0.92)"><g transform="rotate(2.7)"><polygon class="th" points="14.72,-8.5 30.89,-13.75 40.88,0 30.89,13.75 14.72,8.5"/><polygon class="th" points="0,17 -3.54,33.63 -20.44,35.4 -27.35,19.88 -14.72,8.5"/><polygon class="th" points="-14.72,-8.5 -27.35,-19.88 -20.44,-35.4 -3.54,-33.63 0,-17"/><polygon class="bz" points="14.72,8.5 0,17 -14.72,8.5 -14.72,-8.5 0,-17 14.72,-8.5"/><path class="ln" d="M10.5,6.9L1.2,12.3M-11,5.4V-5.4M1.2,-12.3L10.5,-6.9M36.4,1.3L30.6,9.3M-19.3,30.9L-23.4,21.9M-17.1,-32.2L-7.3,-31.2"/></g><g transform="rotate(122.7)"><path class="b" d="M40.9,0L48,-8L61,-8M49,-11.5L60,-11.5M61,-15L61,-1"/></g><text class="s" x="31.5" y="-8.3">S</text><text class="s" x="-5.1" y="37.4">S</text><text class="s" x="-26.4" y="-17.2">S</text></g>
<g transform="translate(931.3,384.1) scale(0.92)"><g transform="rotate(62.7)"><polygon class="th" points="14.72,-8.5 30.89,-13.75 40.88,0 30.89,13.75 14.72,8.5"/><polygon class="th" points="0,17 -3.54,33.63 -20.44,35.4 -27.35,19.88 -14.72,8.5"/><polygon class="th" points="-14.72,-8.5 -27.35,-19.88 -20.44,-35.4 -3.54,-33.63 0,-17"/><polygon class="bz" points="14.72,8.5 0,17 -14.72,8.5 -14.72,-8.5 0,-17 14.72,-8.5"/><path class="ln" d="M10.5,6.9L1.2,12.3M-11,5.4V-5.4M1.2,-12.3L10.5,-6.9M36.4,1.3L30.6,9.3M-19.3,30.9L-23.4,21.9M-17.1,-32.2L-7.3,-31.2"/></g><g transform="rotate(182.7)"><path class="b" d="M40.9,0L48,-8L61,-8M49,-11.5L60,-11.5M61,-15L61,-1"/></g><text class="s" x="26.4" y="25.1">S</text><text class="s" x="-31.5" y="16.3">S</text><text class="s" x="5.1" y="-29.4">S</text></g>
<g transform="translate(1056.1,189.7) scale(0.92)"><g transform="rotate(2.7)"><polygon class="th" points="14.72,-8.5 30.89,-13.75 40.88,0 30.89,13.75 14.72,8.5"/><polygon class="th" points="0,17 -3.54,33.63 -20.44,35.4 -27.35,19.88 -14.72,8.5"/><polygon class="th" points="-14.72,-8.5 -27.35,-19.88 -20.44,-35.4 -3.54,-33.63 0,-17"/><polygon class="bz" points="14.72,8.5 0,17 -14.72,8.5 -14.72,-8.5 0,-17 14.72,-8.5"/><path class="ln" d="M10.5,6.9L1.2,12.3M-11,5.4V-5.4M1.2,-12.3L10.5,-6.9M36.4,1.3L30.6,9.3M-19.3,30.9L-23.4,21.9M-17.1,-32.2L-7.3,-31.2"/></g><g transform="rotate(242.7)"><path class="b" d="M40.9,0L48,-8L61,-8M49,-11.5L60,-11.5M61,-15L61,-1"/></g><text class="s" x="31.5" y="-8.3">S</text><text class="s" x="-5.1" y="37.4">S</text><text class="s" x="-26.4" y="-17.2">S</text></g>
<g transform="translate(1286.8,200.6) scale(0.92)"><g transform="rotate(62.7)"><polygon class="th" points="14.72,-8.5 30.89,-13.75 40.88,0 30.89,13.75 14.72,8.5"/><polygon class="th" points="0,17 -3.54,33.63 -20.44,35.4 -27.35,19.88 -14.72,8.5"/><polygon class="th" points="-14.72,-8.5 -27.35,-19.88 -20.44,-35.4 -3.54,-33.63 0,-17"/><polygon class="bz" points="14.72,8.5 0,17 -14.72,8.5 -14.72,-8.5 0,-17 14.72,-8.5"/><path class="ln" d="M10.5,6.9L1.2,12.3M-11,5.4V-5.4M1.2,-12.3L10.5,-6.9M36.4,1.3L30.6,9.3M-19.3,30.9L-23.4,21.9M-17.1,-32.2L-7.3,-31.2"/></g><g transform="rotate(302.7)"><path class="b" d="M40.9,0L48,-8L61,-8M49,-11.5L60,-11.5M61,-15L61,-1"/></g><text class="s" x="26.4" y="25.1">S</text><text class="s" x="-31.5" y="16.3">S</text><text class="s" x="5.1" y="-29.4">S</text></g>

<g transform="translate(1314.8,402.2) scale(0.75)"><g transform="rotate(2.7)"><polygon class="th" points="14.72,-8.5 30.89,-13.75 40.88,0 30.89,13.75 14.72,8.5"/><polygon class="th" points="0,17 -3.54,33.63 -20.44,35.4 -27.35,19.88 -14.72,8.5"/><polygon class="th" points="-14.72,-8.5 -27.35,-19.88 -20.44,-35.4 -3.54,-33.63 0,-17"/><polygon class="bz" points="14.72,8.5 0,17 -14.72,8.5 -14.72,-8.5 0,-17 14.72,-8.5"/><path class="ln" d="M10.5,6.9L1.2,12.3M-11,5.4V-5.4M1.2,-12.3L10.5,-6.9M36.4,1.3L30.6,9.3M-19.3,30.9L-23.4,21.9M-17.1,-32.2L-7.3,-31.2"/><path class="b" d="M40.9,0L48,-8L61,-8M49,-11.5L60,-11.5M61,-15L61,-1"/></g><text class="s" x="31.5" y="-8.3">S</text><text class="s" x="-5.1" y="37.4">S</text><text class="s" x="-26.4" y="-17.2">S</text></g>
<g transform="translate(1232.2,531) scale(0.75)"><g transform="rotate(62.7)"><polygon class="th" points="14.72,-8.5 30.89,-13.75 40.88,0 30.89,13.75 14.72,8.5"/><polygon class="th" points="0,17 -3.54,33.63 -20.44,35.4 -27.35,19.88 -14.72,8.5"/><polygon class="th" points="-14.72,-8.5 -27.35,-19.88 -20.44,-35.4 -3.54,-33.63 0,-17"/><polygon class="bz" points="14.72,8.5 0,17 -14.72,8.5 -14.72,-8.5 0,-17 14.72,-8.5"/><path class="ln" d="M10.5,6.9L1.2,12.3M-11,5.4V-5.4M1.2,-12.3L10.5,-6.9M36.4,1.3L30.6,9.3M-19.3,30.9L-23.4,21.9M-17.1,-32.2L-7.3,-31.2"/><path class="b" d="M40.9,0L48,-8L61,-8M49,-11.5L60,-11.5M61,-15L61,-1"/></g><text class="s" x="26.4" y="25.1">S</text><text class="s" x="-31.5" y="16.3">S</text><text class="s" x="5.1" y="-29.4">S</text></g>
<g transform="translate(1079.3,523.8) scale(0.75)"><g transform="rotate(2.7)"><polygon class="th" points="14.72,-8.5 30.89,-13.75 40.88,0 30.89,13.75 14.72,8.5"/><polygon class="th" points="0,17 -3.54,33.63 -20.44,35.4 -27.35,19.88 -14.72,8.5"/><polygon class="th" points="-14.72,-8.5 -27.35,-19.88 -20.44,-35.4 -3.54,-33.63 0,-17"/><polygon class="bz" points="14.72,8.5 0,17 -14.72,8.5 -14.72,-8.5 0,-17 14.72,-8.5"/><path class="ln" d="M10.5,6.9L1.2,12.3M-11,5.4V-5.4M1.2,-12.3L10.5,-6.9M36.4,1.3L30.6,9.3M-19.3,30.9L-23.4,21.9M-17.1,-32.2L-7.3,-31.2"/></g><g transform="rotate(122.7)"><path class="b" d="M40.9,0L48,-8L61,-8M49,-11.5L60,-11.5M61,-15L61,-1"/></g><text class="s" x="31.5" y="-8.3">S</text><text class="s" x="-5.1" y="37.4">S</text><text class="s" x="-26.4" y="-17.2">S</text></g>
<g transform="translate(1009.2,387.8) scale(0.75)"><g transform="rotate(62.7)"><polygon class="th" points="14.72,-8.5 30.89,-13.75 40.88,0 30.89,13.75 14.72,8.5"/><polygon class="th" points="0,17 -3.54,33.63 -20.44,35.4 -27.35,19.88 -14.72,8.5"/><polygon class="th" points="-14.72,-8.5 -27.35,-19.88 -20.44,-35.4 -3.54,-33.63 0,-17"/><polygon class="bz" points="14.72,8.5 0,17 -14.72,8.5 -14.72,-8.5 0,-17 14.72,-8.5"/><path class="ln" d="M10.5,6.9L1.2,12.3M-11,5.4V-5.4M1.2,-12.3L10.5,-6.9M36.4,1.3L30.6,9.3M-19.3,30.9L-23.4,21.9M-17.1,-32.2L-7.3,-31.2"/></g><g transform="rotate(182.7)"><path class="b" d="M40.9,0L48,-8L61,-8M49,-11.5L60,-11.5M61,-15L61,-1"/></g><text class="s" x="26.4" y="25.1">S</text><text class="s" x="-31.5" y="16.3">S</text><text class="s" x="5.1" y="-29.4">S</text></g>
<g transform="translate(1091.8,259) scale(0.75)"><g transform="rotate(2.7)"><polygon class="th" points="14.72,-8.5 30.89,-13.75 40.88,0 30.89,13.75 14.72,8.5"/><polygon class="th" points="0,17 -3.54,33.63 -20.44,35.4 -27.35,19.88 -14.72,8.5"/><polygon class="th" points="-14.72,-8.5 -27.35,-19.88 -20.44,-35.4 -3.54,-33.63 0,-17"/><polygon class="bz" points="14.72,8.5 0,17 -14.72,8.5 -14.72,-8.5 0,-17 14.72,-8.5"/><path class="ln" d="M10.5,6.9L1.2,12.3M-11,5.4V-5.4M1.2,-12.3L10.5,-6.9M36.4,1.3L30.6,9.3M-19.3,30.9L-23.4,21.9M-17.1,-32.2L-7.3,-31.2"/></g><g transform="rotate(242.7)"><path class="b" d="M40.9,0L48,-8L61,-8M49,-11.5L60,-11.5M61,-15L61,-1"/></g><text class="s" x="31.5" y="-8.3">S</text><text class="s" x="-5.1" y="37.4">S</text><text class="s" x="-26.4" y="-17.2">S</text></g>
<g transform="translate(1244.7,266.2) scale(0.75)"><g transform="rotate(62.7)"><polygon class="th" points="14.72,-8.5 30.89,-13.75 40.88,0 30.89,13.75 14.72,8.5"/><polygon class="th" points="0,17 -3.54,33.63 -20.44,35.4 -27.35,19.88 -14.72,8.5"/><polygon class="th" points="-14.72,-8.5 -27.35,-19.88 -20.44,-35.4 -3.54,-33.63 0,-17"/><polygon class="bz" points="14.72,8.5 0,17 -14.72,8.5 -14.72,-8.5 0,-17 14.72,-8.5"/><path class="ln" d="M10.5,6.9L1.2,12.3M-11,5.4V-5.4M1.2,-12.3L10.5,-6.9M36.4,1.3L30.6,9.3M-19.3,30.9L-23.4,21.9M-17.1,-32.2L-7.3,-31.2"/></g><g transform="rotate(302.7)"><path class="b" d="M40.9,0L48,-8L61,-8M49,-11.5L60,-11.5M61,-15L61,-1"/></g><text class="s" x="26.4" y="25.1">S</text><text class="s" x="-31.5" y="16.3">S</text><text class="s" x="5.1" y="-29.4">S</text></g>

<text class="cof" x="1136" y="582"><tspan class="red">BTT-</tspan>DAB-COF</text>
<text class="cof" x="1126" y="656"><tspan class="red">BTT-</tspan>DADP-COF</text>
<text class="cof" x="1140" y="742"><tspan class="red">BTT-</tspan>DATP-COF</text>

<!-- ===== Panel b ===== -->
<text class="pl" x="67" y="852">b</text>
<text class="ttl" x="314" y="850">BTT-DAB-COF</text>
<text class="hk" transform="translate(102,858) rotate(-90)" y="6">(100)</text>
<g transform="translate(165.5,937) scale(38.4)" class="hc" stroke-width="10" marker-start="url(#od)" marker-mid="url(#od)">
<polygon points="0,-1 .866,-.5 .866,.5 0,1 -.866,.5 -.866,-.5"/><polygon points="1.732,-1 2.598,-.5 2.598,.5 1.732,1 .866,.5 .866,-.5"/><polygon points=".866,.5 1.732,1 1.732,2 .866,2.5 0,2 0,1"/><polygon points="2.598,.5 3.464,1 3.464,2 2.598,2.5 1.732,2 1.732,1"/>
<path marker-start="none" marker-mid="none" d="M0,-1V-1.4M1.732,-1V-1.4M-.866,-.5L-1.212,-.7M-.866,.5L-1.212,.7M2.598,-.5L2.944,-.7M3.464,1L3.81,.8M3.464,2L3.81,2.2M.866,2.5V2.9M2.598,2.5V2.9M0,2L-.346,2.2"/>
</g>
<g clip-path="url(#abB)"><rect x="310" y="885" width="220" height="160" fill="url(#hp2)"/><rect x="310" y="885" width="220" height="160" fill="url(#hg2)"/></g>
<text class="st" x="250" y="1072">AA stacking</text>
<text class="st" x="469" y="1072">AB stacking</text>
<text class="hk" transform="translate(470,1100) rotate(-90)" y="6">(001)</text>
<path class="aa" d="M73,1163L91,1163C96.4,1163 97.6,1110 100,1110C102.4,1110 103.6,1163 109,1163L133.5,1163C139.8,1163 141.2,1153 144,1153C146.8,1153 148.2,1163 154.5,1163L155,1163C158.6,1163 159.4,1159 161,1159C162.6,1159 163.4,1163 167,1163L190.5,1163C197,1163 198.2,1157 201,1157C203.8,1157 205,1163 211.5,1163L464,1163C473,1163 475,1161 479,1161C483,1161 485,1163 494,1163L558,1163"/>
<path class="abc" d="M73,1197L92,1197C97.4,1197 98.6,1144 101,1144C103.4,1144 104.6,1197 110,1197L133.4,1197C139.2,1197 140.4,1160 143,1160C145.6,1160 146.8,1197 152.6,1197L153,1197C155,1197 155.5,1194 157,1194C158.5,1194 159,1197 161,1197L182,1197C189,1197 190,1195 194,1195C198,1195 199,1197 206,1197L236,1197C241,1197 242,1194 245,1194C248,1194 249,1197 252,1197L253.4,1197C259.2,1197 260.4,1178 263,1178C265.6,1178 266.8,1197 272.6,1197L274,1197C277,1197 278,1194 280,1194C282,1194 283,1197 286,1197L289.5,1197C295.8,1197 297.2,1189 300,1189C302.8,1189 304.2,1197 310.5,1197L463,1197C472,1197 474,1194 478,1194C482,1194 484,1197 493,1197L558,1197"/>
<path class="ex" stroke-width="9" d="M73,935 76,962 80,988 84,1008 88,1020 91,1016 94,992 97,952 100,908 102,888 104,905 106,968 108,1028 111,1063 115,1084 120,1099 127,1111 133,1116 137,1112 141,1098 145,1093 149,1102 152,1116 156,1122 160,1121 164,1124 172,1127 185,1127 194,1124 199,1119 203,1120 208,1126 216,1129 240,1130 300,1131 400,1131 470,1131 478,1128 490,1130 558,1132"/>
<path class="exk" transform="translate(0,-2)" d="M73,935 76,962 80,988 84,1008 88,1020 91,1016 94,992 97,952 100,908 102,888 104,905 106,968 108,1028 111,1063 115,1084 120,1099 127,1111 133,1116 137,1112 141,1098 145,1093 149,1102 152,1116 156,1122 160,1121 164,1124 172,1127 185,1127 194,1124 199,1119 203,1120 208,1126 216,1129 240,1130 300,1131 400,1131 470,1131 478,1128 490,1130 558,1132"/>
<text class="st" x="437" y="1157">AA stacking</text>
<text class="st" x="437" y="1190">AB stacking</text>
<line class="ax" x1="73" y1="1211" x2="558" y2="1211"/>
<path class="tks" d="M83.9,1211v6M127,1211v6M170.1,1211v6M213.2,1211v6M256.3,1211v6M299.4,1211v6M342.5,1211v6M385.6,1211v6M428.7,1211v6M471.8,1211v6M514.9,1211v6M558,1211v6"/>
<g class="tk"><text x="127" y="1240">5</text><text x="213.2" y="1240">10</text><text x="299.4" y="1240">15</text><text x="385.6" y="1240">20</text><text x="471.8" y="1240">25</text><text x="558" y="1240">30</text></g>
<text class="xl" x="322" y="1266">2 Theta</text>

<!-- ===== Panel c ===== -->
<text class="pl" x="591" y="847">c</text>
<text class="ttl" x="851" y="844">BTT-DADP-COF</text>
<text class="hk" transform="translate(632,834) rotate(-90)" y="6">(100)</text>
<g transform="translate(687,936) scale(36.3)" class="hc" stroke-width="8" marker-start="url(#od)" marker-mid="url(#od)">
<polygon points="0,-1 .866,-.5 .866,.5 0,1 -.866,.5 -.866,-.5"/><polygon points="1.732,-1 2.598,-.5 2.598,.5 1.732,1 .866,.5 .866,-.5"/><polygon points=".866,.5 1.732,1 1.732,2 .866,2.5 0,2 0,1"/><polygon points="2.598,.5 3.464,1 3.464,2 2.598,2.5 1.732,2 1.732,1"/>
<path marker-start="none" marker-mid="none" d="M0,-1V-1.4M1.732,-1V-1.4M-.866,-.5L-1.212,-.7M-.866,.5L-1.212,.7M2.598,-.5L2.944,-.7M3.464,1L3.81,.8M3.464,2L3.81,2.2M.866,2.5V2.9M2.598,2.5V2.9M0,2L-.346,2.2"/>
</g>
<g clip-path="url(#abC)"><rect x="830" y="885" width="220" height="160" fill="url(#hp)"/><rect x="830" y="885" width="220" height="160" fill="url(#hg)"/></g>
<text class="st" x="736" y="1071">AA stacking</text>
<text class="st" x="955" y="1070">AB stacking</text>
<text class="hk" transform="translate(993,1102) rotate(-90)" y="6">(001)</text>
<path class="aa" d="M620,1167L624,1167C629.4,1167 630.6,1125 633,1125C635.4,1125 636.6,1167 642,1167L658,1167C663.4,1167 664.6,1159 667,1159C669.4,1159 670.6,1167 676,1167C678,1167 678.5,1164 679.5,1164C680.5,1164 681,1167 684,1167L697,1167C702.4,1167 703.6,1162 706,1162C708.4,1162 709.6,1167 715,1167L733,1167C740,1167 741,1165 745,1165C749,1165 750,1167 757,1167L1067,1167"/>
<path class="abc" d="M620,1203L628,1203C633.4,1203 634.6,1160 637,1160C639.4,1160 640.6,1203 646,1203L661,1203C666.4,1203 667.6,1173 670,1173C672.4,1173 673.6,1203 679,1203L697,1203C702.4,1203 703.6,1199 706,1199C708.4,1199 709.6,1203 715,1203L732,1203C739,1203 740,1199 744,1199C748,1199 749,1203 756,1203L812,1203C822,1203 824,1201 830,1201C836,1201 838,1203 848,1203L1067,1203"/>
<path class="ex" stroke-width="7.5" d="M620,942 622,930 624,948 626,932 628,952 630,938 632,895 633,867 635,885 637,960 640,1030 644,1068 650,1092 656,1104 661,1107 664,1094 666,1088 668,1100 671,1120 676,1126 685,1127 695,1126 702,1124 706,1115 709,1117 713,1126 725,1129 745,1130 800,1131 1067,1132"/>
<path class="exk" transform="translate(0,-2)" stroke-width="1.6" d="M620,942 622,930 624,948 626,932 628,952 630,938 632,895 633,867 635,885 637,960 640,1030 644,1068 650,1092 656,1104 661,1107 664,1094 666,1088 668,1100 671,1120 676,1126 685,1127 695,1126 702,1124 706,1115 709,1117 713,1126 725,1129 745,1130 800,1131 1067,1132"/>
<text class="st" x="951" y="1160">AA stacking</text>
<text class="st" x="951" y="1193">AB stacking</text>
<line class="ax" x1="620" y1="1213" x2="1067" y2="1213"/>
<path class="tks" d="M630.4,1213v6M670,1213v6M709.6,1213v6M749.3,1213v6M788.9,1213v6M828.5,1213v6M868.1,1213v6M907.8,1213v6M947.4,1213v6M987,1213v6M1026.6,1213v6M1066.3,1213v6"/>
<g class="tk"><text x="670" y="1242">5</text><text x="749.3" y="1242">10</text><text x="828.5" y="1242">15</text><text x="907.8" y="1242">20</text><text x="987" y="1242">25</text><text x="1066.3" y="1242">30</text></g>
<text class="xl" x="869" y="1268">2 Theta</text>

<!-- ===== Panel d ===== -->
<text class="pl" x="1098" y="842">d</text>
<text class="ttl" x="1325" y="842">BTT-DATP-COF</text>
<text class="hk" transform="translate(1137,832) rotate(-90)" y="6">(100)</text>
<g transform="translate(1194,934) scale(38.6)" class="hc" stroke-width="6.5" marker-start="url(#od)" marker-mid="url(#od)">
<polygon points="0,-1 .866,-.5 .866,.5 0,1 -.866,.5 -.866,-.5"/><polygon points="1.732,-1 2.598,-.5 2.598,.5 1.732,1 .866,.5 .866,-.5"/><polygon points=".866,.5 1.732,1 1.732,2 .866,2.5 0,2 0,1"/><polygon points="2.598,.5 3.464,1 3.464,2 2.598,2.5 1.732,2 1.732,1"/>
<path marker-start="none" marker-mid="none" d="M0,-1V-1.4M1.732,-1V-1.4M-.866,-.5L-1.212,-.7M-.866,.5L-1.212,.7M2.598,-.5L2.944,-.7M3.464,1L3.81,.8M3.464,2L3.81,2.2M.866,2.5V2.9M2.598,2.5V2.9M0,2L-.346,2.2"/>
</g>
<g clip-path="url(#abD)"><rect x="1350" y="880" width="225" height="165" fill="url(#hp)"/><rect x="1350" y="880" width="225" height="165" fill="url(#hg)"/></g>
<text class="st" x="1273" y="1074">AA stacking</text>
<text class="st" x="1492" y="1070">AB stacking</text>
<text class="hk" transform="translate(1529,1106) rotate(-90)" y="6">(001)</text>
<path class="aa" d="M1133,1170C1135,1160 1136.5,1133 1138,1133C1140,1133 1141,1173 1145.5,1173L1158,1173C1163.4,1173 1164.6,1166 1167,1166C1169.4,1166 1170.6,1173 1172,1173C1174,1173 1175,1170 1176,1170C1177,1170 1178,1173 1180,1173L1190,1173C1195.4,1173 1196.6,1168 1199,1168C1201.4,1168 1202.6,1173 1208,1173L1220.5,1173C1226.8,1173 1228.2,1170 1231,1170C1233.8,1170 1235.2,1173 1241.5,1173L1252,1173C1259,1173 1260,1171 1264,1171C1268,1171 1269,1173 1276,1173L1587,1173"/>
<path class="abc" d="M1133,1203L1134.5,1203C1139,1203 1140.5,1163 1142,1163C1144,1163 1145,1204 1149.5,1204L1159,1204C1164.4,1204 1165.6,1175 1168,1175C1170.4,1175 1171.6,1204 1177,1204L1190,1204C1195.4,1204 1196.6,1199 1199,1199C1201.4,1199 1202.6,1204 1208,1204L1222,1204C1227.4,1204 1228.6,1198 1231,1198C1233.4,1198 1234.6,1204 1240,1204L1311,1204C1316.4,1204 1317.6,1198 1320,1198C1322.4,1198 1323.6,1204 1329,1204L1331,1204C1336.4,1204 1337.6,1200 1340,1200C1342.4,1200 1343.6,1204 1349,1204L1358,1204C1365,1204 1366,1202 1370,1202C1374,1202 1375,1204 1382,1204L1587,1204"/>
<path class="ex" stroke-width="7.5" d="M1132,912 1134,888 1136,905 1137,866 1139,882 1140,947 1142,1000 1144,1040 1147,1064 1150,1078 1155,1088 1160,1092 1164,1089 1167,1099 1170,1114 1175,1124 1181,1131 1190,1133 1196,1129 1200,1127 1205,1133 1215,1137 1240,1139 1300,1140 1587,1142"/>
<path class="exk" transform="translate(0,-2)" stroke-width="1.2" d="M1132,912 1134,888 1136,905 1137,866 1139,882 1140,947 1142,1000 1144,1040 1147,1064 1150,1078 1155,1088 1160,1092 1164,1089 1167,1099 1170,1114 1175,1124 1181,1131 1190,1133 1196,1129 1200,1127 1205,1133 1215,1137 1240,1139 1300,1140 1587,1142"/>
<text class="st" x="1513" y="1169">AA stacking</text>
<text class="st" x="1513" y="1199">AB stacking</text>
<line class="ax" x1="1133" y1="1214" x2="1587" y2="1214"/>
<path class="tks" d="M1142.6,1214v6M1183,1214v6M1223.4,1214v6M1263.8,1214v6M1304.2,1214v6M1344.6,1214v6M1385,1214v6M1425.4,1214v6M1465.8,1214v6M1506.2,1214v6M1546.6,1214v6M1586.8,1214v6"/>
<g class="tk"><text x="1183" y="1242">5</text><text x="1263.8" y="1242">10</text><text x="1344.6" y="1242">15</text><text x="1425.4" y="1242">20</text><text x="1506.2" y="1242">25</text><text x="1586.8" y="1242">30</text></g>
<text class="xl" x="1385" y="1268">2 Theta</text>
</svg>
</body></html>
